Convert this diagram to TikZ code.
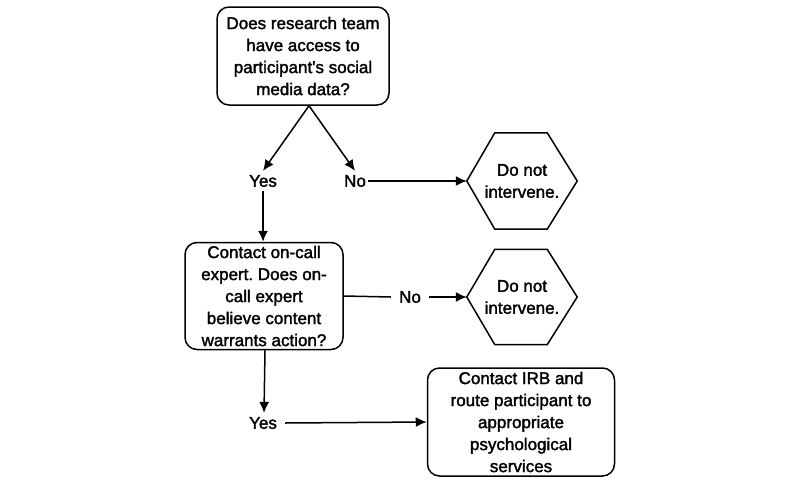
\documentclass[tikz,border=0pt]{standalone}
\usepackage{fontspec}
\setmainfont{Liberation Sans}
\newfontfamily\diafont{Liberation Sans}[FakeBold=1.8,Ligatures=TeXOff]
\usetikzlibrary{arrows.meta,calc}
\frenchspacing
\tikzset{
  box/.style={draw, line width=1.5pt, rounded corners=12pt, align=center, inner sep=0pt, font=\diafont\fontsize{17}{22}\selectfont},
  hexbox/.style={inner sep=0pt, align=center, font=\diafont\fontsize{17}{22}\selectfont},
  lbl/.style={inner sep=4pt, font=\diafont\fontsize{17}{22}\selectfont},
  arr/.style={line width=1.5pt, -{Latex[length=11pt,width=10pt]}},
  ln/.style={line width=1.5pt},
  hexline/.style={line width=1.5pt, line join=miter}
}
\begin{document}
\begin{tikzpicture}[x=1pt,y=-1pt]
\useasboundingbox (0,0) rectangle (800,485);
\fill[white] (0,0) rectangle (800,485);

\node[box, minimum width=172pt, minimum height=98pt] (q1) at (303,56)
  {Does research team\\have access to\\participant's social\\media data?};
\node[lbl] (yes1) at (263,181) {Yes};
\node[lbl, inner xsep=2pt] (no1) at (355,181) {No};

\node[hexbox, minimum width=110pt, minimum height=96pt] (h1) at (522,181) {Do not\\intervene.};
\draw[hexline] (h1.west) -- ($(h1.north west)+(28,0)$) -- ($(h1.north east)+(-30,0)$) -- (h1.east)
  -- ($(h1.south east)+(-30,0)$) -- ($(h1.south west)+(28,0)$) -- cycle;

\node[box, minimum width=158pt, minimum height=107pt] (q2) at (264,296)
  {Contact on-call\\expert. Does on-\\call expert\\believe content\\warrants action?};

\node[hexbox, minimum width=110pt, minimum height=95pt] (h2) at (522,297) {Do not\\intervene.};
\draw[hexline] (h2.west) -- ($(h2.north west)+(28,0)$) -- ($(h2.north east)+(-30,0)$) -- (h2.east)
  -- ($(h2.south east)+(-30,0)$) -- ($(h2.south west)+(28,0)$) -- cycle;

\node[lbl, inner xsep=8pt] (no2) at (410,297) {No};
\node[lbl, inner xsep=8pt] (yes2) at (263,423) {Yes};

\node[box, minimum width=187pt, minimum height=108pt] (act) at (521,422)
  {Contact IRB and\\route participant to\\appropriate\\psychological\\services};

\coordinate (c1) at ($(q1.south)+(6,0)$);
\draw[arr] (c1) -- (yes1.north);
\draw[arr] (c1) -- (no1.north);
\draw[arr] (no1.east) -- (h1.west);
\draw[arr] (yes1.south) -- (yes1.south |- q2.north);
\draw[ln] (q2.east) -- (no2.west);
\draw[arr] (no2.east) -- (h2.west);
\draw[arr] ([xshift=1pt]q2.south) -- ([xshift=1pt]yes2.north);
\draw[arr] (yes2.east) -- (act.west);
\end{tikzpicture}
\end{document}
